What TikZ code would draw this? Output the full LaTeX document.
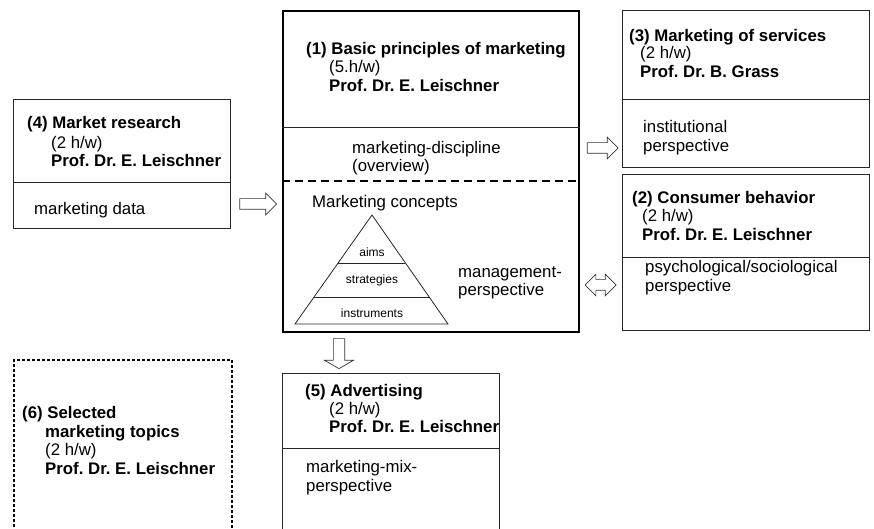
\documentclass[tikz,border=0pt]{standalone}
\usepackage{fontspec}
\setmainfont{Liberation Sans}
\usetikzlibrary{shapes.arrows,calc}
\begin{document}
\frenchspacing
\begin{tikzpicture}[x=1bp,y=-1bp,
  txt/.style={anchor=base west, inner sep=0pt, font=\fontsize{16.8bp}{19bp}\selectfont},
  btxt/.style={anchor=base west, inner sep=0pt, font=\fontsize{16.8bp}{19bp}\selectfont\bfseries},
  stxt/.style={anchor=base, inner sep=0pt, font=\fontsize{12bp}{14bp}\selectfont},
  box/.style={draw=black!85, line width=0.8bp, inner sep=0pt, anchor=north west},
  mainbox/.style={draw=black, line width=1.8bp, inner sep=0pt, anchor=north west},
  dotbox/.style={draw=black, line width=1.5bp, dash pattern=on 3bp off 2bp, inner sep=0pt, anchor=north west},
  divline/.style={draw=black!85, line width=0.8bp},
  dashdiv/.style={draw=black, line width=1.8bp, dash pattern=on 8bp off 5bp},
  blockarrow/.style={single arrow, draw=black!80, fill=white, line width=0.7bp,
    inner xsep=0pt, inner ysep=5bp, single arrow head extend=5.5bp},
  dblockarrow/.style={double arrow, draw=black!80, fill=white, line width=0.7bp,
    inner xsep=0pt, inner ysep=5bp, double arrow head extend=5.5bp}
]
\useasboundingbox (0,0) rectangle (874,529);

% boxes
\node[mainbox, minimum width=296bp, minimum height=321bp] (b1) at (282,10) {};
\node[box, minimum width=247bp, minimum height=157bp] (b3) at (622,10) {};
\node[box, minimum width=247bp, minimum height=156bp] (b2) at (622,174) {};
\node[box, minimum width=217bp, minimum height=129bp] (b4) at (13,99) {};
\node[dotbox, minimum width=218bp, minimum height=185bp] (b6) at (13,359) {};
\node[box, minimum width=217bp, minimum height=175bp] (b5) at (282,373) {};

% dividers
\draw[divline] (b1.west |- 0,127) -- (b1.east |- 0,127);
\draw[dashdiv] (b1.west |- 0,181) -- (b1.east |- 0,181);
\draw[divline] (b3.west |- 0,99) -- (b3.east |- 0,99);
\draw[divline] (b2.west |- 0,257) -- (b2.east |- 0,257);
\draw[divline] (b4.west |- 0,182) -- (b4.east |- 0,182);
\draw[divline] (b5.west |- 0,448) -- (b5.east |- 0,448);

% box 1 texts
\node[btxt] (t1a) at (306,55) {(1) Basic principles of marketing};
\node[txt]  (t1b) at (329,73) {(5.h/w)};
\node[btxt] (t1c) at (329,92) {Prof. Dr. E. Leischner};
\node[txt]  (t1d) at (352,154) {marketing-discipline};
\node[txt]  (t1e) at (352,172) {(overview)};
\node[txt]  (t1f) at (312,208) {Marketing concepts};
\node[txt]  (t1g) at (458,278) {management-};
\node[txt]  (t1h) at (458,296) {perspective};

% pyramid
\coordinate (apex) at (372,215);
\coordinate (pbl) at (295,324);
\coordinate (pbr) at (448,324);
\draw[divline, line join=miter] (pbl) -- (apex) -- (pbr) -- cycle;
\draw[divline] ($(apex)!0.44!(pbl)$) -- ($(apex)!0.44!(pbr)$);
\draw[divline] ($(apex)!0.752!(pbl)$) -- ($(apex)!0.752!(pbr)$);
\node[stxt] (p1) at (372,257) {aims};
\node[stxt] (p2) at (372,284) {strategies};
\node[stxt] (p3) at (372,318) {instruments};

% box 3 texts
\node[btxt] (t3a) at (629,42) {(3) Marketing of services};
\node[txt]  (t3b) at (640,59) {(2 h/w)};
\node[btxt] (t3c) at (640,78) {Prof. Dr. B. Grass};
\node[txt]  (t3d) at (643,133) {institutional};
\node[txt]  (t3e) at (643,152) {perspective};

% box 2 texts
\node[btxt] (t2a) at (632,204) {(2) Consumer behavior};
\node[txt]  (t2b) at (642,222) {(2 h/w)};
\node[btxt] (t2c) at (642,241) {Prof. Dr. E. Leischner};
\node[txt]  (t2d) at (645,273) {psychological/sociological};
\node[txt]  (t2e) at (645,292) {perspective};

% box 4 texts
\node[btxt] (t4a) at (27,129) {(4) Market research};
\node[txt]  (t4b) at (51,149) {(2 h/w)};
\node[btxt] (t4c) at (51,167) {Prof. Dr. E. Leischner};
\node[txt]  (t4d) at (34,215) {marketing data};

% box 6 texts
\node[btxt] (t6a) at (22,418) {(6) Selected};
\node[btxt] (t6b) at (45,437) {marketing topics};
\node[txt]  (t6c) at (45,455) {(2 h/w)};
\node[btxt] (t6d) at (45,474) {Prof. Dr. E. Leischner};

% box 5 texts
\node[btxt] (t5a) at (305,396) {(5) Advertising};
\node[txt]  (t5b) at (329,414) {(2 h/w)};
\node[btxt] (t5c) at (329,432) {Prof. Dr. E. Leischner};
\node[txt]  (t5d) at (306,472) {marketing-mix-};
\node[txt]  (t5e) at (306,491) {perspective};

% block arrows
\node[blockarrow, minimum height=37bp] (a41) at (255.5,204) {};
\node[blockarrow, minimum height=31bp] (a13) at (600,148) {};
\node[dblockarrow, minimum height=31bp] (a12) at (600.5,285) {};
\node[blockarrow, minimum height=30bp, inner xsep=5.3bp, inner ysep=0pt, single arrow head extend=8.7bp,
      single arrow tip angle=120, shape border rotate=270] (a15) at (339,352) {};
\end{tikzpicture}
\end{document}
